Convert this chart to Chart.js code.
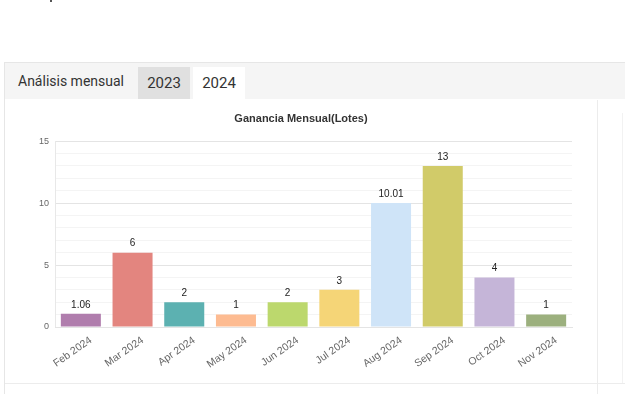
<!DOCTYPE html>
<html>
<head>
<meta charset="utf-8">
<script src="https://cdn.jsdelivr.net/npm/chart.js@4/dist/chart.umd.min.js"></script>
<style>
  html, body { margin: 0; padding: 0; background: #fff; width: 625px; height: 394px; overflow: hidden; font-family: Roboto, "Liberation Sans", Arial, sans-serif; }
  .dot { position: absolute; left: 50px; top: 0px; width: 2px; height: 2px; background: #555; }
  .panel { position: absolute; left: 4px; top: 62px; width: 640px; height: 340px; border-left: 1px solid #e6e6e6; border-top: 1px solid #e6e6e6; }
  .hdr { position: absolute; left: 0; top: 0; width: 100%; height: 36px; background: #f5f5f5; }
  .hdr .t { position: absolute; left: 13px; top: 10px; font-size: 14px; color: #333; }
  .tab { position: absolute; top: 4px; height: 32px; font-size: 15px; color: #333; text-align: center; line-height: 32px; }
  .tab1 { left: 133px; width: 52px; background: #e0e0e0; }
  .tab2 { left: 188px; width: 52px; background: #fff; }
  .vline { position: absolute; top: 37px; width: 1px; background: #ececec; }
  .hline { position: absolute; height: 1px; background: #ececec; }
  #wrap { position: absolute; left: 5px; top: 100px; width: 591px; height: 282px; }
</style>
</head>
<body>
<div class="dot"></div>
<div class="panel">
  <div class="hdr"><span class="t">Análisis mensual</span>
    <div class="tab tab1">2023</div>
    <div class="tab tab2">2024</div>
  </div>
  <div class="vline" style="left:592px;height:300px;"></div>
  <div class="vline" style="left:617px;top:50px;height:270px;background:#f2f2f2"></div>
  <div class="hline" style="left:0;top:320px;width:640px;"></div>
  <div class="hline" style="left:21px;top:331px;width:453px;background:#eeeeee"></div>
</div>
<div id="wrap"><canvas id="c" width="591" height="282"></canvas></div>
<script>
const categories = ["Feb 2024","Mar 2024","Apr 2024","May 2024","Jun 2024","Jul 2024","Aug 2024","Sep 2024","Oct 2024","Nov 2024"];
const values = [1.06, 6, 2, 1, 2, 3, 10.01, 13, 4, 1];
const valueLabels = ["1.06","6","2","1","2","3","10.01","13","4","1"];
const barColors = ["#b07dad","#e3857f","#5cb1b1","#fdbb91","#bcd86d","#f5d577","#cfe4f8","#d1cb69","#c5b5d8","#9cb07e"];
const yTickLabels = [0, 5, 10, 15];

const valueLabelPlugin = {
  id: 'valueLabels',
  afterDatasetsDraw(chart) {
    const ctx = chart.ctx;
    const meta = chart.getDatasetMeta(0);
    ctx.save();
    ctx.font = '10px "Liberation Sans", Arial, sans-serif';
    ctx.fillStyle = '#222';
    ctx.textAlign = 'center';
    ctx.textBaseline = 'bottom';
    meta.data.forEach((bar, i) => {
      ctx.fillText(valueLabels[i], bar.x, bar.y - 4);
    });
    ctx.restore();
  }
};

new Chart(document.getElementById('c'), {
  type: 'bar',
  data: {
    labels: categories,
    datasets: [{
      data: values,
      backgroundColor: barColors,
      borderWidth: 0,
      barPercentage: 0.86,
      categoryPercentage: 0.9
    }]
  },
  options: {
    responsive: false,
    animation: false,
    devicePixelRatio: 1,
    layout: { padding: { left: 25, right: 24, top: 0, bottom: 0 } },
    plugins: {
      legend: { display: false },
      tooltip: { enabled: false },
      title: {
        display: true,
        text: 'Ganancia Mensual(Lotes)',
        color: '#333',
        font: { family: '"Liberation Sans", Arial, sans-serif', size: 11, weight: 'bold' },
        padding: { top: 12, bottom: 16 }
      }
    },
    scales: {
      y: {
        min: 0, max: 15,
        afterFit(scale) { scale.width = 25; },
        ticks: {
          stepSize: 1,
          autoSkip: false,
          padding: 6,
          color: '#666',
          font: { family: '"Liberation Sans", Arial, sans-serif', size: 9 },
          callback: (v) => yTickLabels.includes(v) ? String(v) : ''
        },
        grid: {
          drawTicks: false,
          color: (c) => (c.tick && yTickLabels.includes(c.tick.value)) ? '#e4e4e4' : '#f4f4f4'
        },
        border: { color: '#e8e8e8' }
      },
      x: {
        afterFit(scale) { scale.height = 55; },
        ticks: {
          minRotation: 35, maxRotation: 35,
          autoSkip: false,
          padding: 7,
          labelOffset: 10,
          color: '#666',
          font: { family: '"Liberation Sans", Arial, sans-serif', size: 10.5 }
        },
        grid: {
          drawTicks: false,
          color: (c) => c.index === categories.length ? '#e4e4e4' : 'rgba(0,0,0,0)'
        },
        border: { color: '#e4e4e4' }
      }
    }
  },
  plugins: [valueLabelPlugin]
});
</script>
</body>
</html>
